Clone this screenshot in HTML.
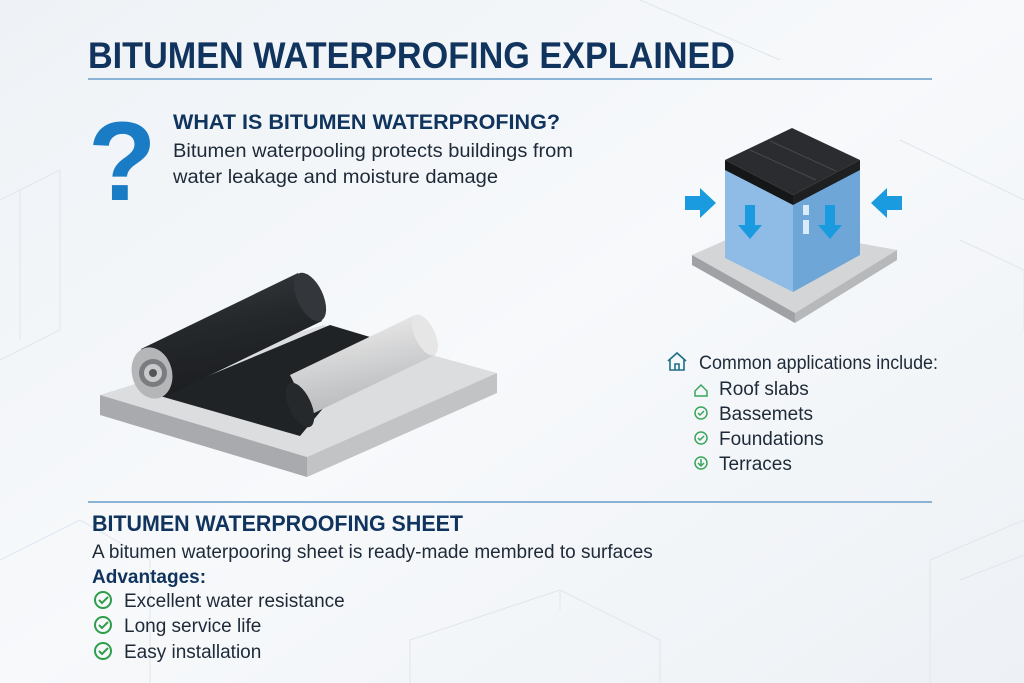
<!DOCTYPE html>
<html><head><meta charset="utf-8"><style>
body{margin:0;width:1024px;height:683px;overflow:hidden;background:#f3f6f9;font-family:"Liberation Sans",sans-serif}
svg{display:block}
</style></head><body>
<svg width="1024" height="683" viewBox="0 0 1024 683" xmlns="http://www.w3.org/2000/svg">
<defs>
<linearGradient id="bg" x1="0" y1="0" x2="1" y2="1"><stop offset="0" stop-color="#eef2f6"/><stop offset="0.5" stop-color="#f7f9fb"/><stop offset="1" stop-color="#edf1f5"/></linearGradient>
<linearGradient id="roll" x1="0" y1="0" x2="0.3" y2="1"><stop offset="0" stop-color="#3a3d40"/><stop offset="0.5" stop-color="#25282b"/><stop offset="1" stop-color="#1b1d20"/></linearGradient>
<linearGradient id="wr" x1="0" y1="0" x2="0.3" y2="1"><stop offset="0" stop-color="#f2f2f2"/><stop offset="1" stop-color="#b8b9bb"/></linearGradient>
</defs>
<rect width="1024" height="683" fill="url(#bg)"/>
<g stroke="#dfe6ee" fill="none" stroke-width="1">
<path d="M0 200 L60 170 L60 330 L0 360"/><path d="M20 190 L20 340"/>
<path d="M930 560 L1024 520 M930 560 L930 683 M960 580 L1024 555"/>
<path d="M410 640 L560 590 L660 640 L660 683 M410 640 L410 683 M560 590 L560 610"/>
<path d="M0 560 L80 520 L150 560 L150 683"/>
<path d="M640 0 L780 60 M900 140 L1024 200 M960 240 L1024 270 L1024 330"/>
</g>
<text x="88" y="68" font-size="37" font-weight="bold" fill="#10345d" textLength="647" lengthAdjust="spacingAndGlyphs">BITUMEN WATERPROFING EXPLAINED</text>
<rect x="88" y="78" width="844" height="2" fill="#8ab3d6"/>
<text x="88" y="200" font-size="112" font-weight="bold" fill="#1b7cc6">?</text>
<text x="173" y="129" font-size="21" font-weight="bold" fill="#10345d" textLength="387" lengthAdjust="spacingAndGlyphs">WHAT IS BITUMEN WATERPROFING?</text>
<text x="173" y="157" font-size="19" fill="#1e2a38" textLength="400" lengthAdjust="spacingAndGlyphs">Bitumen waterpooling protects buildings from</text>
<text x="173" y="183" font-size="19" fill="#1e2a38" textLength="325" lengthAdjust="spacingAndGlyphs">water leakage and moisture damage</text>

<!-- slab -->
<polygon points="100,395 323,325 497,373 307,457" fill="#dcdddf"/>
<polygon points="100,395 307,457 307,477 100,415" fill="#a9aaad"/>
<polygon points="307,457 497,373 497,393 307,477" fill="#c2c3c5"/>
<!-- dark sheet -->
<polygon points="160,396 300,436 380,340 330,325" fill="#202326"/>
<!-- white roll -->
<polygon points="290,375 415,315 435,355 310,415" fill="url(#wr)"/>
<ellipse cx="425" cy="335" rx="10" ry="22" fill="#e6e6e6" transform="rotate(-25 425 335)"/>
<ellipse cx="300" cy="405" rx="11" ry="24" fill="#26292c" transform="rotate(-25 300 405)"/>
<!-- dark roll -->
<polygon points="141,349 298,273 322,321 165,397" fill="url(#roll)"/>
<ellipse cx="310" cy="297" rx="13" ry="26" fill="#33363a" transform="rotate(-25 310 297)"/>
<ellipse cx="152" cy="373" rx="20" ry="26" fill="#b5b6b8" transform="rotate(-15 152 373)"/>
<circle cx="153" cy="373" r="14" fill="#7a7c7f"/><circle cx="153" cy="373" r="9" fill="#c8c9cb"/><circle cx="153" cy="373" r="4" fill="#555"/>

<!-- building -->
<polygon points="692,255 760,225 897,250 795,313" fill="#d4d5d7"/>
<polygon points="692,255 795,313 795,323 692,265" fill="#9fa1a4"/>
<polygon points="795,313 897,250 897,260 795,323" fill="#b6b8ba"/>
<polygon points="725,168 793,203 793,292 725,258" fill="#8fbce6"/>
<polygon points="793,203 860,168 860,255 793,292" fill="#6fa6d8"/>
<polygon points="725,160 792,128 860,160 793,195" fill="#2a2c2f"/>
<polygon points="725,160 793,195 793,205 725,170" fill="#151618"/>
<polygon points="793,195 860,160 860,170 793,205" fill="#1d1f21"/>
<path d="M750 150 L816 180 M770 141 L836 171" stroke="#45484c" stroke-width="1"/>
<g fill="#1a9be0">
<path d="M745 205 h10 v20 h7 l-12 14 l-12 -14 h7z"/>
<path d="M825 205 h10 v20 h7 l-12 14 l-12 -14 h7z"/>
<polygon points="685,196 700,196 700,188 716,203 700,218 700,210 685,210"/>
<polygon points="902,196 887,196 887,188 871,203 887,218 887,210 902,210"/>
</g>
<rect x="803" y="205" width="6" height="10" fill="#d8ecfb"/><rect x="803" y="220" width="6" height="14" fill="#d8ecfb"/>

<!-- applications -->
<path d="M668 361 l9 -8 l9 8 M670 359 v11 h14 v-11 M675 370 v-6 h4 v6" stroke="#1e6f86" stroke-width="1.6" fill="none"/>
<text x="699" y="369" font-size="19" fill="#1e2a38" textLength="239" lengthAdjust="spacingAndGlyphs">Common applications include:</text>
<g stroke="#3aa65a" stroke-width="1.5" fill="none">
<path d="M695 391 l6 -6 l6 6 v5 h-12z"/>
<circle cx="701" cy="413" r="6"/><path d="M698 413 l2 2 l4 -4"/>
<circle cx="701" cy="438" r="6"/><path d="M698 438 l2 2 l4 -4"/>
<circle cx="701" cy="463" r="6"/><path d="M701 459 v6 M698 463 l3 3 l3 -3"/>
</g>
<g font-size="19" fill="#1e2a38">
<text x="719" y="395">Roof slabs</text>
<text x="719" y="420">Bassemets</text>
<text x="719" y="445">Foundations</text>
<text x="719" y="470">Terraces</text>
</g>

<rect x="88" y="501" width="844" height="2" fill="#8ab3d6"/>
<text x="92" y="531" font-size="22" font-weight="bold" fill="#10345d" textLength="371" lengthAdjust="spacingAndGlyphs">BITUMEN WATERPROOFING SHEET</text>
<text x="92" y="558" font-size="19" fill="#1e2a38">A bitumen waterpooring sheet is ready-made membred to surfaces</text>
<text x="92" y="583" font-size="19" font-weight="bold" fill="#10345d">Advantages:</text>
<g stroke="#2e9e4a" stroke-width="2" fill="none">
<circle cx="103" cy="600" r="8"/><path d="M99 600 l3 3 l6 -6"/>
<circle cx="103" cy="625" r="8"/><path d="M99 625 l3 3 l6 -6"/>
<circle cx="103" cy="651" r="8"/><path d="M99 651 l3 3 l6 -6"/>
</g>
<g font-size="19" fill="#1e2a38">
<text x="124" y="607">Excellent water resistance</text>
<text x="124" y="632">Long service life</text>
<text x="124" y="658">Easy installation</text>
</g>
</svg>
</body></html>
